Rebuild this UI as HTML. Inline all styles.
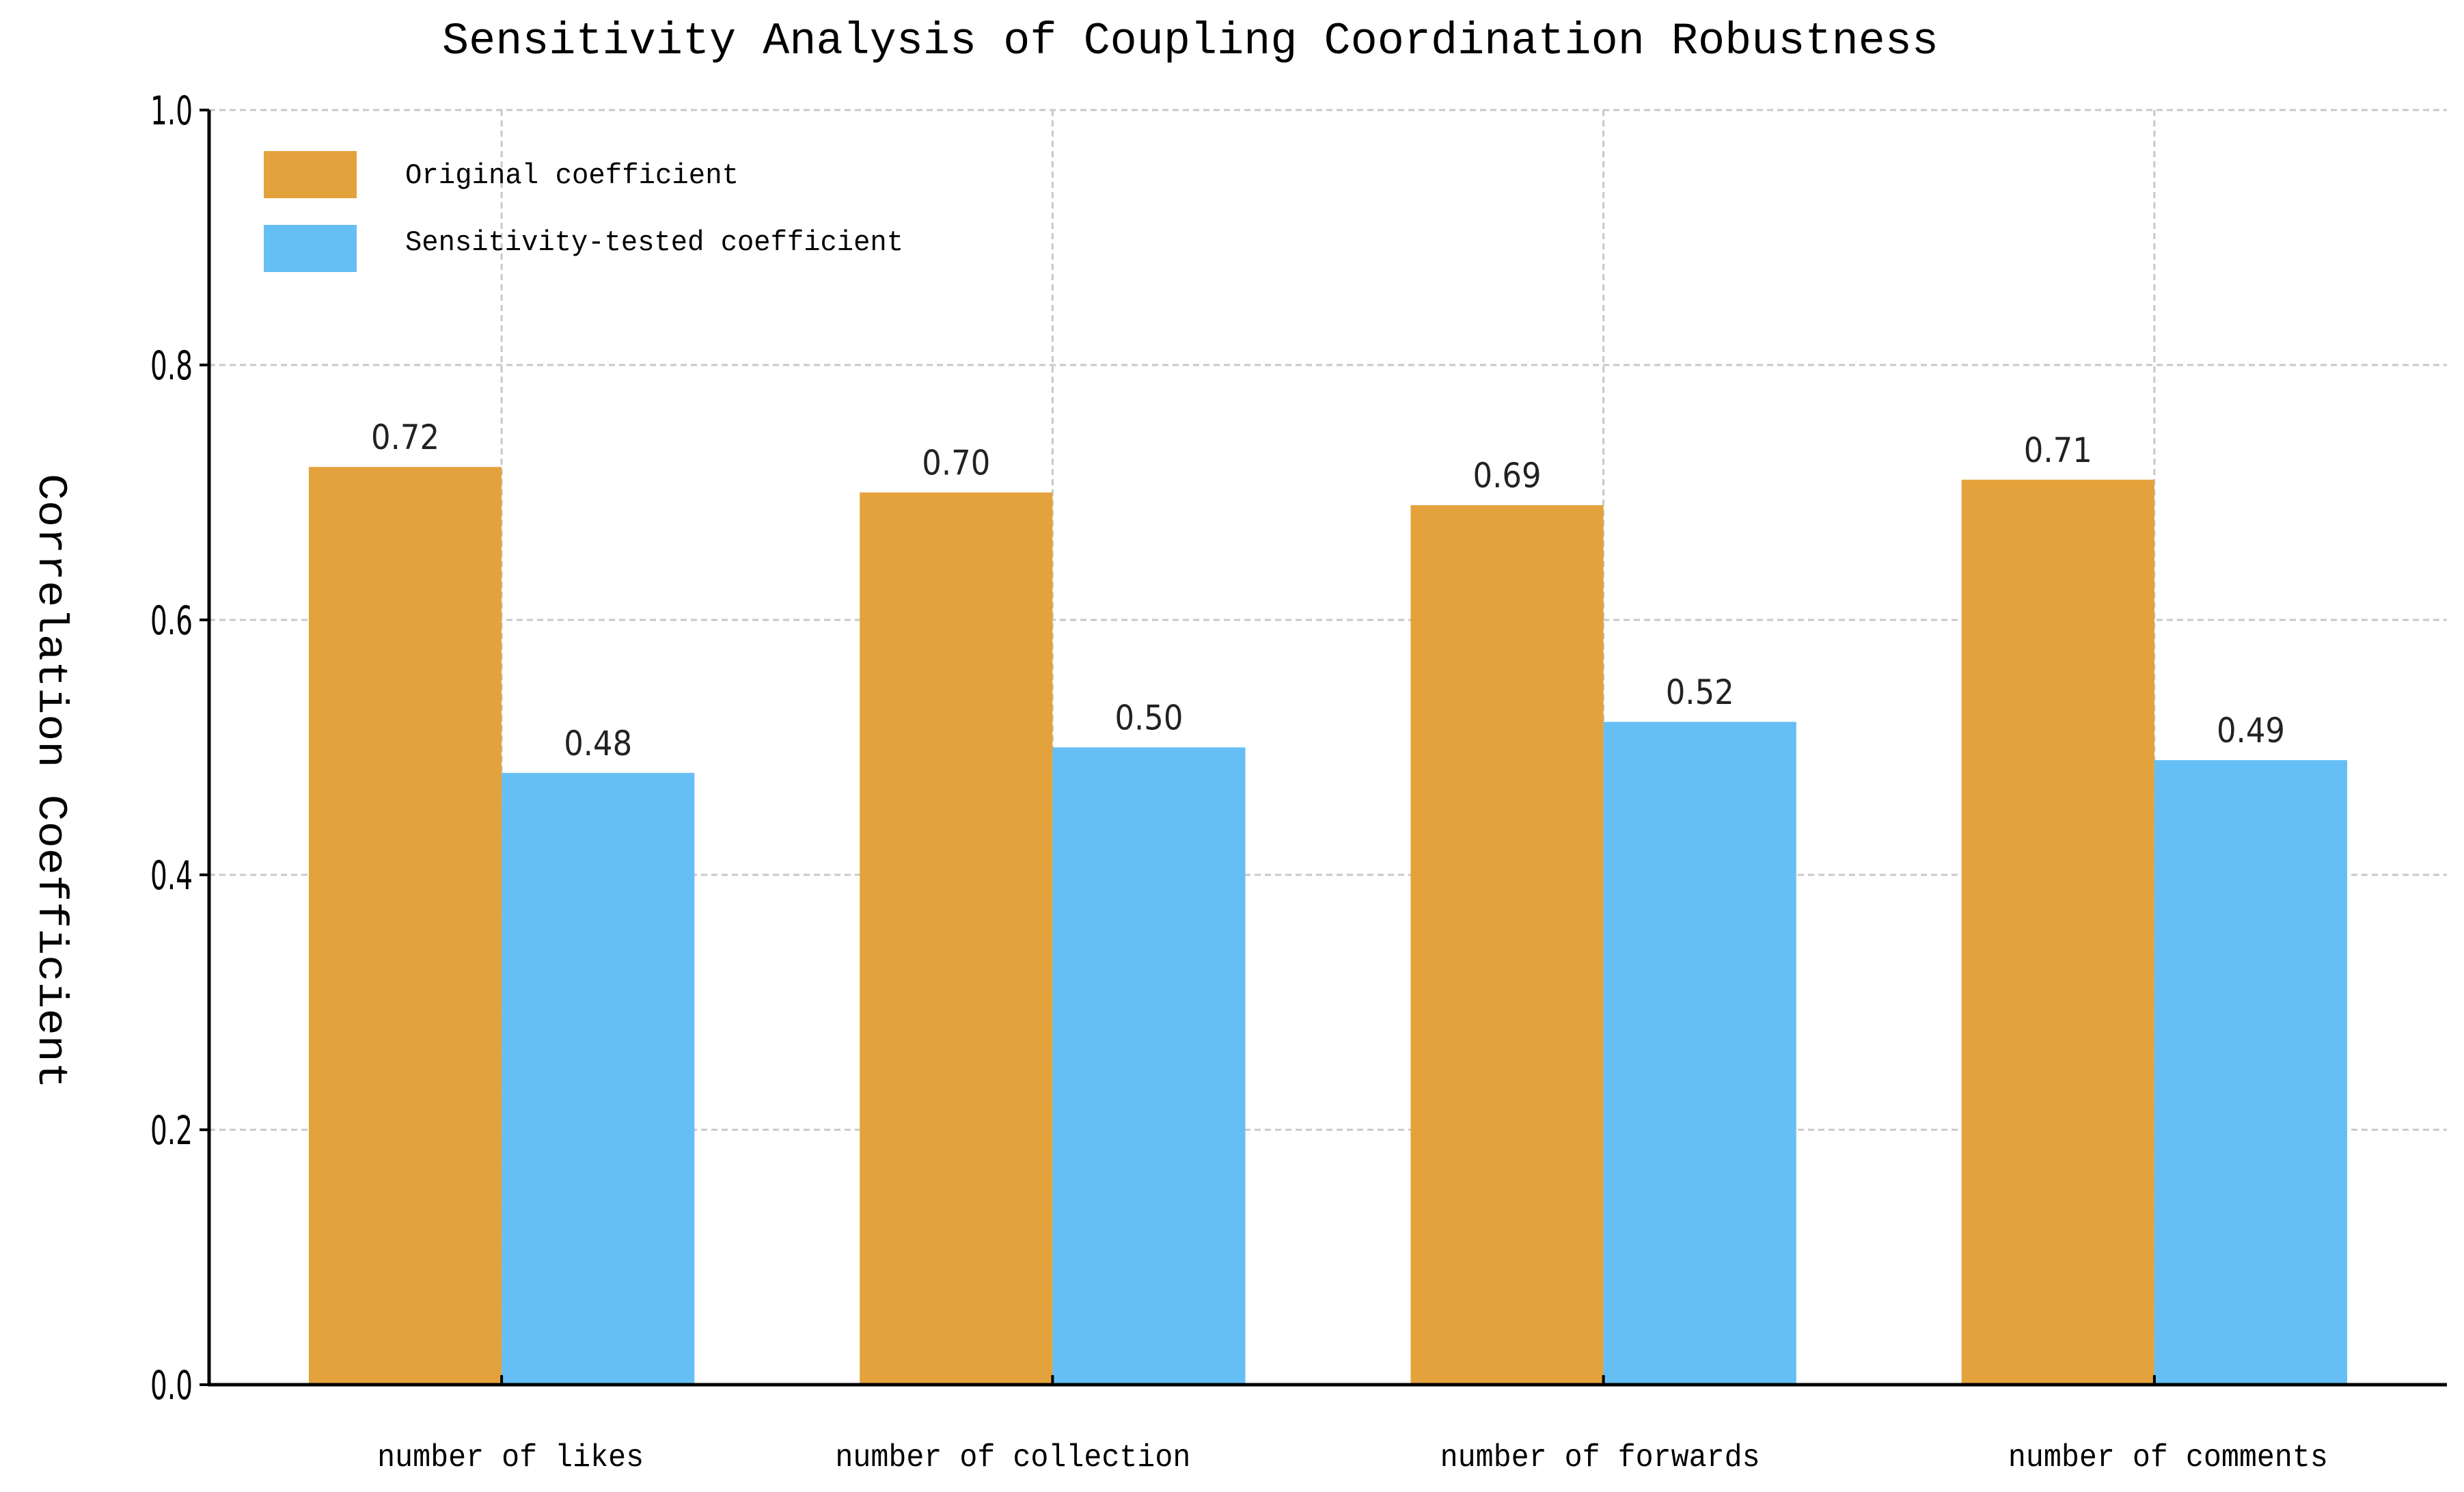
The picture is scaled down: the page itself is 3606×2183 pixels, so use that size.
<!DOCTYPE html>
<html><head><meta charset="utf-8"><style>
html,body{margin:0;padding:0;background:#fff;}
svg{display:block;}
</style></head><body>
<svg id="chart" width="3606" height="2183" viewBox="0 0 3606 2183" xmlns="http://www.w3.org/2000/svg">
<rect width="3606" height="2183" fill="#ffffff"/>
<text x="1742" y="78" text-anchor="middle" font-family="Liberation Mono, monospace" font-size="66" textLength="2190" lengthAdjust="spacingAndGlyphs" fill="#000">Sensitivity Analysis of Coupling Coordination Robustness</text>
<text transform="translate(74,1143) rotate(90)" text-anchor="middle" dominant-baseline="middle" font-family="Liberation Mono, monospace" font-size="60" textLength="900" lengthAdjust="spacingAndGlyphs" fill="#000">Correlation Coefficient</text>
<g id="grid"></g>
<g id="bars"></g>
<g id="axes"></g>
<g id="legend">
<rect x="386" y="221" width="136" height="69" fill="#E4A23D"/>
<text x="593" y="268" font-family="Liberation Mono, monospace" font-size="42" textLength="488" lengthAdjust="spacingAndGlyphs" fill="#000">Original coefficient</text>
<rect x="386" y="329" width="136" height="69" fill="#66BFF4"/>
<text x="593" y="366" font-family="Liberation Mono, monospace" font-size="42" textLength="729" lengthAdjust="spacingAndGlyphs" fill="#000">Sensitivity-tested coefficient</text>
</g>
</svg>
<script>
const categories = ["number of likes","number of collection","number of forwards","number of comments"];
const originalValues = [0.72,0.70,0.69,0.71];
const sensitivityValues = [0.48,0.50,0.52,0.49];
const yTickValues = [0.0,0.2,0.4,0.6,0.8,1.0];
const yTickLabels = ["0.0","0.2","0.4","0.6","0.8","1.0"];
const labelShift = [13,-58,-5,20];

const NS="http://www.w3.org/2000/svg";
const plotL=306, plotR=3581, plotT=161, plotB=2026;
const xMin=-0.531, xMax=3.531, barW=0.35;
function xScale(v){return plotL+(v-xMin)/(xMax-xMin)*(plotR-plotL);}
function yScale(v){return plotB-(v-0)/(1.0-0)*(plotB-plotT);}
function mk(tag,attrs,parent){const e=document.createElementNS(NS,tag);for(const k in attrs)e.setAttribute(k,attrs[k]);parent.appendChild(e);return e;}
const grid=document.getElementById('grid'),bars=document.getElementById('bars'),axes=document.getElementById('axes');

yTickValues.forEach((v,i)=>{
  const y=yScale(v);
  if(v>0){const g=mk('line',{x1:plotL,x2:plotR,y1:y,y2:y,stroke:'#c8c8c8','stroke-width':3,'stroke-dasharray':'9,6'},grid);
  
  }
  const t=mk('line',{x1:plotL-14,x2:plotL,y1:y,y2:y,stroke:'#000','stroke-width':4},axes);
  
  
  const lb=mk('text',{x:plotL-24,y:y+21,'text-anchor':'end','font-family':'DejaVu Sans, sans-serif','font-size':58,textLength:62,lengthAdjust:'spacingAndGlyphs',fill:'#000'},axes);
  
  
  lb.textContent=yTickLabels[i];
});
categories.forEach((c,i)=>{
  const x=xScale(i);
  const g=mk('line',{x1:x,x2:x,y1:plotT,y2:plotB,stroke:'#c8c8c8','stroke-width':3,'stroke-dasharray':'9,6'},grid);
  
  
  const ob=mk('rect',{x:xScale(i-barW),y:yScale(originalValues[i]),width:xScale(i)-xScale(i-barW),height:yScale(0)-yScale(originalValues[i]),fill:'#E4A23D'},bars);
  
  
  const sb=mk('rect',{x:xScale(i),y:yScale(sensitivityValues[i]),width:xScale(i+barW)-xScale(i),height:yScale(0)-yScale(sensitivityValues[i]),fill:'#66BFF4'},bars);
  
  
  const ol=mk('text',{x:xScale(i-barW/2),y:yScale(originalValues[i])-26,'text-anchor':'middle','font-family':'DejaVu Sans, sans-serif','font-size':50,textLength:100,lengthAdjust:'spacingAndGlyphs',fill:'#222'},bars);
  
  
  ol.textContent=originalValues[i].toFixed(2);
  const sl=mk('text',{x:xScale(i+barW/2),y:yScale(sensitivityValues[i])-26,'text-anchor':'middle','font-family':'DejaVu Sans, sans-serif','font-size':50,textLength:100,lengthAdjust:'spacingAndGlyphs',fill:'#222'},bars);
  
  
  sl.textContent=sensitivityValues[i].toFixed(2);
  const t=mk('line',{x1:x,x2:x,y1:plotB-14,y2:plotB,stroke:'#000','stroke-width':4},axes);
  
  
  const xl=mk('text',{x:x+labelShift[i],y:2145,'text-anchor':'middle','font-family':'Liberation Mono, monospace','font-size':46,textLength:c.length*26,lengthAdjust:'spacingAndGlyphs',fill:'#000'},axes);
  
  
  xl.textContent=c;
});
const ya=mk('line',{x1:plotL,x2:plotL,y1:plotT,y2:plotB+2,stroke:'#000','stroke-width':5},axes);


const xa=mk('line',{x1:plotL-2,x2:plotR,y1:plotB,y2:plotB,stroke:'#000','stroke-width':5},axes);


</script>
</body></html>
